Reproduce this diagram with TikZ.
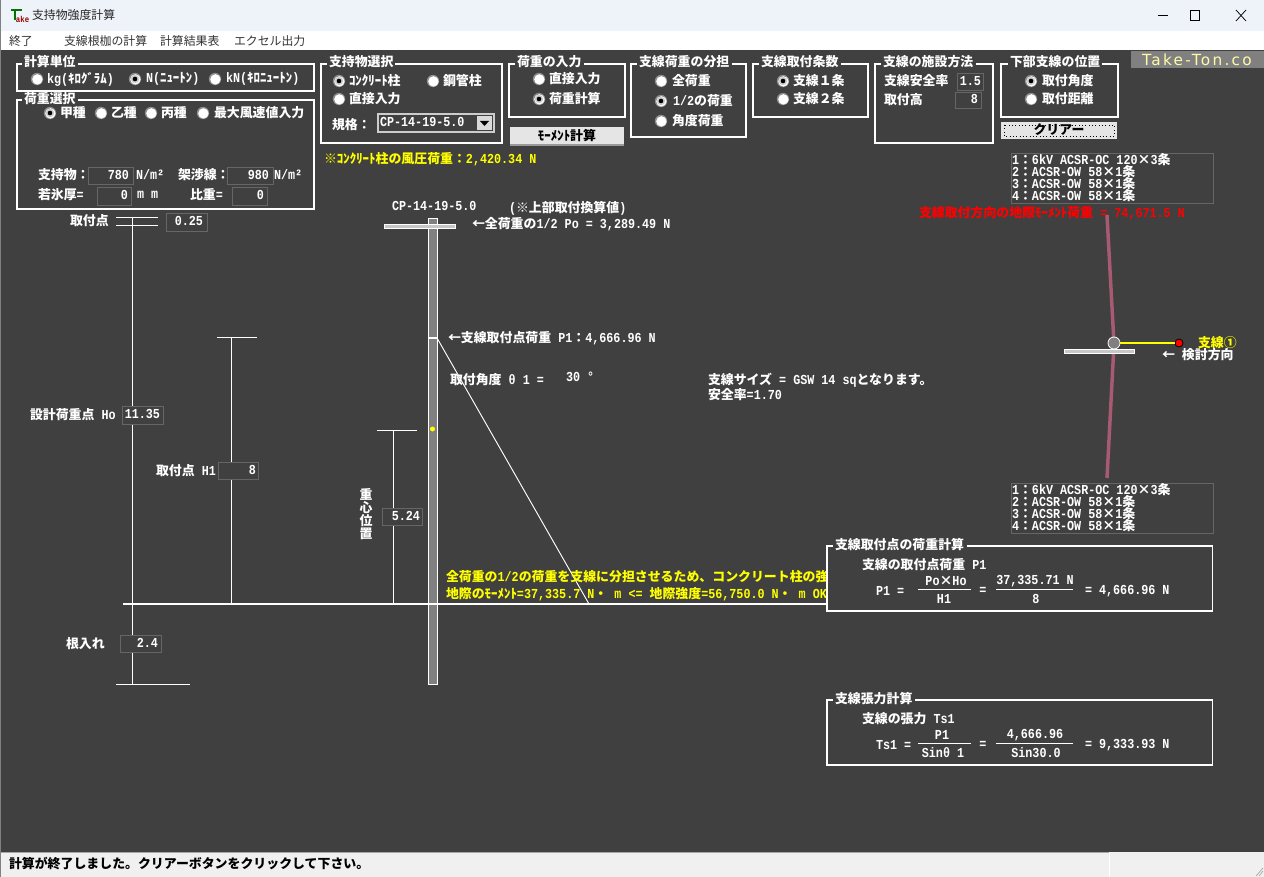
\documentclass[tikz,border=0pt]{standalone}
\usepackage{fontspec}
\setmainfont{Liberation Mono}[BoldFont={Liberation Mono Bold},Scale=1.17,FakeStretch=0.855]
\newfontfamily\latf{Liberation Mono}[BoldFont={Liberation Mono Bold},Scale=1.17,FakeStretch=0.855]
\newfontfamily\cjkf{Noto Sans CJK JP}[Scale=1.1]
\XeTeXinterchartokenstate=1
\newXeTeXintercharclass\cjkclass
\newcount\cc
\newcommand\setcjkrange[2]{\cc=#1\relax\loop\XeTeXcharclass\cc=\cjkclass\relax\ifnum\cc<#2\advance\cc by 1\repeat}
\setcjkrange{"3000}{"9FFF}
\setcjkrange{"FF00}{"FFEF}
\setcjkrange{"2190}{"2193}
\setcjkrange{"203B}{"203B}
\setcjkrange{"2460}{"2469}
\setcjkrange{"00D7}{"00D7}
\XeTeXinterchartoks 0 \cjkclass={\cjkf}
\XeTeXinterchartoks \cjkclass 0={\latf}
\XeTeXinterchartoks 4095 \cjkclass={\cjkf}
\XeTeXinterchartoks \cjkclass 4095={\latf}
\definecolor{bgd}{HTML}{404040}
\definecolor{ttl}{HTML}{EEF2F9}
\definecolor{edge}{HTML}{666666}
\definecolor{polec}{HTML}{808080}
\definecolor{linec}{HTML}{A85A72}
\definecolor{yel}{HTML}{FFFF00}
\tikzset{
 x=0.75pt,y=-0.75pt,
 every node/.style={inner sep=0pt,outer sep=0pt,font=\fontsize{8.8pt}{10.5pt}\selectfont\bfseries},
 menutext/.style={anchor=west,font=\fontsize{8.1pt}{10pt}\selectfont,text=black!80},
 tw/.style={anchor=west,text=white},
 ty/.style={anchor=west,text=yel},
 tr/.style={anchor=west,text=red},
 tk/.style={anchor=west,text=black},
 tval/.style={anchor=east,text=white},
 tc/.style={anchor=center,text=white},
 grp/.style={draw=white,line width=1.1pt},
 fld/.style={draw=edge,line width=0.65pt},
 wl/.style={draw=white,line width=0.75pt},
}
\newcommand\rad[3]{%
 \fill[black!45] (#1,#2) circle (6.2);
 \fill[white] (#1+0.4,#2+0.4) circle (5.2);
 \ifnum#3=1 \fill[black!20] (#1,#2) circle (4.2);\fill[black] (#1,#2) circle (2.3);\fi}
\begin{document}
\begin{tikzpicture}
\useasboundingbox (0,0) rectangle (1264,877);
\fill[bgd] (0,0) rectangle (1264,877);
% title and menu
\fill[ttl] (0,0) rectangle (1264,31);
\fill[white] (0,31) rectangle (1264,50);
\fill[white!94!black] (0,852) rectangle (1264,877);
\draw[black!35,line width=1pt] (0,852.5) -- (1109,852.5);
\draw[white,line width=0.6pt] (1109,852) -- (1109,877);
\draw[black!35,line width=0.5pt] (1256,876) -- (1263,868) (1259,876) -- (1263,871);
\draw[black!50,line width=0.8pt] (0.5,0) -- (0.5,877);
\node[menutext,text=black!85] (ttl) at (32,15) {支持物強度計算};
\draw[green!45!black,line width=1.2pt] (11,10) -- (22,10) (15,10) -- (15,20);
\node[anchor=west,text=red!60!black,font=\fontsize{5.5pt}{6pt}\selectfont\bfseries] (ico2) at (16,19) {ake};
\draw[black,line width=0.55pt] (1190,10.5) rectangle (1199,20.5) (1158,15.5) -- (1168,15.5);
\draw[black,line width=0.55pt] (1236,10) -- (1246,21) (1246,10) -- (1236,21);
\node[menutext] (m1) at (9,41) {終了};
\node[menutext] (m2) at (64,41) {支線根枷の計算};
\node[menutext] (m3) at (160,41) {計算結果表};
\node[menutext] (m4) at (234,41) {\addfontfeatures{FakeStretch=0.87}エクセル出力};
\node[tk] (st) at (9,864) {計算が終了しました。クリアーボタンをクリックして下さい。};
% logo
\fill[black!50] (1131,51) rectangle (1264,68);
\node[anchor=center,text=yellow!35!white,font=\fontsize{11.5pt}{12pt}\selectfont] (logo) at (1197,60) {\fontspec{DejaVu Sans}[LetterSpace=15]Take-Ton.co};
% group boxes
\draw[grp] (78,64) -| (314,91) -| (17,64) -- (22,64);
\node[tw] (g1) at (24,62) {計算単位};
\draw[grp] (78,100) -| (314,209) -| (17,100) -- (22,100);
\node[tw] (g2) at (24,99) {荷重選択};
\draw[grp] (395,64) -| (502,143) -| (321,64) -- (327,64);
\node[tw] (g3) at (329,62) {支持物選択};
\draw[grp] (584,64) -| (625,117) -| (509,64) -- (515,64);
\node[tw] (g4) at (517,62) {荷重の入力};
\draw[grp] (732,64) -| (746,137) -| (631,64) -- (637,64);
\node[tw] (g5) at (639,62) {支線荷重の分担};
\draw[grp] (841,64) -| (868,117) -| (753,64) -- (759,64);
\node[tw] (g6) at (761,62) {支線取付条数};
\draw[grp] (976,64) -| (993,143) -| (875,64) -- (881,64);
\node[tw] (g7) at (883,62) {支線の施設方法};
\draw[grp] (1102,64) -| (1118,117) -| (1001,64) -- (1008,64);
\node[tw] (g8) at (1010,62) {下部支線の位置};
% radios
\rad{37}{79}{0} \node[tw] (r1) at (47,79) {kg(ｷﾛｸﾞﾗﾑ)};
\rad{135}{79}{1} \node[tw] (r2) at (146,79) {N(ﾆｭｰﾄﾝ)};
\rad{215}{79}{0} \node[tw] (r3) at (226,79) {kN(ｷﾛﾆｭｰﾄﾝ)};
\rad{50}{113}{1} \node[tw] (r4) at (60,113) {甲種};
\rad{101}{113}{0} \node[tw] (r5) at (111,113) {乙種};
\rad{151}{113}{0} \node[tw] (r6) at (161,113) {丙種};
\rad{203}{113}{0} \node[tw] (r7) at (214,113) {最大風速値入力};
\rad{339}{81}{1} \node[tw] (r8) at (349,81) {ｺﾝｸﾘｰﾄ柱};
\rad{433}{81}{0} \node[tw] (r9) at (443,81) {鋼管柱};
\rad{339}{99}{0} \node[tw] (r10) at (349,99) {直接入力};
\node[tw] (kik) at (332,125) {規格：};
\fill[white!80!black] (377,113) rectangle (495,133);
\fill[bgd] (379,115) rectangle (493,131);
\fill[white!85!black] (477,116) rectangle (492,130);
\fill[black] (480,121) -- (489,121) -- (484.5,126) -- cycle;
\node[tw] (cp) at (380,122) {CP-14-19-5.0};
\rad{539}{79}{0} \node[tw] (r11) at (549,79) {直接入力};
\rad{539}{99}{1} \node[tw] (r12) at (549,99) {荷重計算};
\rad{661}{81}{0} \node[tw] (r13) at (672,81) {全荷重};
\rad{661}{101}{1} \node[tw] (r14) at (673,101) {1/2の荷重};
\rad{661}{121}{0} \node[tw] (r15) at (672,121) {角度荷重};
\rad{783}{81}{1} \node[tw] (r16) at (793,81) {支線１条};
\rad{783}{99}{0} \node[tw] (r17) at (793,99) {支線２条};
\node[tw] (sf) at (884,81) {支線安全率};
\draw[fld] (957,73) rectangle (983,90.5);
\node[tval] (sfv) at (981,81) {1.5};
\node[tw] (th) at (884,100) {取付高};
\draw[fld] (955,92) rectangle (981,108);
\node[tval] (thv) at (978,99) {8};
\rad{1031}{81}{1} \node[tw] (r18) at (1042,81) {取付角度};
\rad{1031}{99}{0} \node[tw] (r19) at (1042,99) {取付距離};
% buttons
\fill[white!90!black] (510,127) rectangle (624,146);
\fill[black!40] (510,144) rectangle (624,146);
\node[anchor=center,text=black] (bt1) at (567,136) {ﾓｰﾒﾝﾄ計算};
\fill[white!90!black] (1001,122) rectangle (1117,139);
\draw[black,dotted,line width=0.5pt] (1004,125) rectangle (1114,136);
\node[anchor=center,text=black] (bt2) at (1059,130) {クリアー};
% load panel
\node[tw] (a1) at (38,175) {支持物：};
\draw[fld] (88,167) rectangle (133,184);
\node[tval] (a1v) at (129,175) {780};
\node[tw] (a1u) at (136,175) {N/m²};
\node[tw] (a2) at (178,175) {架渉線：};
\draw[fld] (227,167) rectangle (273,184);
\node[tval] (a2v) at (269,175) {980};
\node[tw] (a2u) at (274,175) {N/m²};
\node[tw] (a3) at (38,195) {若氷厚=};
\draw[fld] (97,187) rectangle (131,205);
\node[tval] (a3v) at (128,195) {0};
\node[tw] (a3u) at (137,195) {m m};
\node[tw] (a4) at (190,195) {比重=};
\draw[fld] (232,187) rectangle (267,205);
\node[tval] (a4v) at (264,195) {0};
\node[ty] (wind) at (324,159) {※ｺﾝｸﾘｰﾄ柱の風圧荷重：2,420.34 N};
% wire lists
\draw[fld] (1011,153) rectangle (1213,203);
\node[tw] (w1) at (1012,160) {1：6kV ACSR-OC 120×3条};
\node[tw] (w2) at (1012,172) {2：ACSR-OW 58×1条};
\node[tw] (w3) at (1012,184) {3：ACSR-OW 58×1条};
\node[tw] (w4) at (1012,196) {4：ACSR-OW 58×1条};
\node[tr] (mom) at (919,213) {支線取付方向の地際ﾓｰﾒﾝﾄ荷重 = 74,671.5 N};
\draw[fld] (1011,483) rectangle (1213,533);
\node[tw] (w5) at (1012,490) {1：6kV ACSR-OC 120×3条};
\node[tw] (w6) at (1012,502) {2：ACSR-OW 58×1条};
\node[tw] (w7) at (1012,514) {3：ACSR-OW 58×1条};
\node[tw] (w8) at (1012,526) {4：ACSR-OW 58×1条};
% plan view
\draw[linec,line width=2.6pt] (1107,215) -- (1114,344) -- (1107,478);
\fill[white!78!black,draw=white,line width=0.6pt] (1064.5,349.5) rectangle (1134.5,353.5);
\node[circle,fill=polec,draw=white,line width=0.6pt,minimum size=9pt] (pv) at (1114,343) {};
\node[circle,fill=red,draw=black,line width=0.6pt,minimum size=6pt] (pr) at (1179,343) {};
\draw[yel,line width=1.6pt] (pv) -- (pr);
\node[ty] (s1) at (1198,343) {支線①};
\node[tw] (dir) at (1162,355) {← 検討方向};
% left dimensions
\draw[wl] (116,218) -- (158,218) (116,226) -- (158,226) (132,218) -- (132,684) (116,684) -- (190,684);
\node[tw] (d1) at (70,221) {取付点};
\draw[fld,fill=bgd] (166,213) rectangle (207,231);
\node[tval] (d1v) at (203,221) {0.25};
\draw[fld,fill=bgd] (122,406) rectangle (163,424);
\node[tw] (d2) at (30,415) {設計荷重点 Ho};
\node[tval] (d2v) at (160,414) {11.35};
\draw[wl] (217,338) -- (257,338) (231,338) -- (231,604);
\draw[fld,fill=bgd] (218,462) rectangle (258,479);
\node[tw] (d3) at (156,471) {取付点 H1};
\node[tval] (d3v) at (256,470) {8};
\draw[wl] (377,430) -- (417,430) (393,430) -- (393,604);
\draw[fld,fill=bgd] (382,508) rectangle (422.5,525);
\node[tval] (d4v) at (420,516) {5.24};
\node[tw,anchor=center,align=center,font=\fontsize{8.8pt}{8.6pt}\selectfont\bfseries] (d4) at (366,514) {重\\心\\位\\置};
\draw[fld,fill=bgd] (120,635) rectangle (161,652);
\node[tw] (d5) at (66,644) {根入れ};
\node[tval] (d5v) at (158,643) {2.4};
% pole
\fill[polec,draw=white,line width=0.6pt] (428,218) rectangle (437,684);
\fill[white!78!black,draw=white,line width=0.7pt] (384,224.5) rectangle (455,228.5);
\draw[white,line width=1.1pt] (428,338) -- (437,338);
\fill[yel] (432.5,429) circle (2.5);
\coordinate (gp) at (589,604);
\coordinate (tp) at (437,338);
\draw[white,line width=0.7pt] (tp) -- (gp);
\draw[white,line width=1.5pt] (123,603.5) -- (827,603.5);
\node[tw] (cpt) at (392,206) {CP-14-19-5.0};
\node[tw] (nt) at (509,208) {(※上部取付換算値)};
\node[tw] (po) at (472,224) {←全荷重の1/2 Po =  3,289.49 N};
\node[tw] (p1) at (448,338) {←支線取付点荷重 P1：4,666.96 N};
\node[tw] (ang) at (450,379.5) {取付角度  θ 1 =};
\node[tw] (angv) at (566,377) {30 °};
\node[tw] (gs) at (708,380) {支線サイズ = GSW 14 sqとなります。};
\node[tw] (sr) at (708,395) {安全率=1.70};
\begin{scope}
\clip (440,560) rectangle (827,610);
\node[ty] (y1) at (446,577) {全荷重の1/2の荷重を支線に分担させるため、コンクリート柱の強度判定};
\end{scope}
\node[ty] (y2) at (446,594) {地際のﾓｰﾒﾝﾄ=37,335.7 N・ m <= 地際強度=56,750.0 N・ m OK};
% calc 1
\draw[grp,fill=bgd] (967,546) -- (1212.5,546) -- (1212.5,611) -- (827,611) -- (827,546) -- (833,546);
\node[tw] (c1) at (835,545) {支線取付点の荷重計算};
\node[tw] (c1a) at (862,565) {支線の取付点荷重 P1};
\node[tw] (c1b) at (876,591) {P1  =};
\node[tc] (c1n) at (946,581) {Po×Ho};
\draw[wl] (918,589) -- (971,589);
\node[tc] (c1d) at (944,599) {H1};
\node[tc] (c1e) at (983,591) {=};
\node[tc] (c1m) at (1035,581) {37,335.71 N};
\draw[wl] (996,589) -- (1073,589);
\node[tc] (c1o) at (1036,599) {8};
\node[tw] (c1r) at (1085,591) {= 4,666.96 N};
% calc 2
\draw[grp] (915,700) -- (1212.5,700) -- (1212.5,765) -- (827,765) -- (827,700) -- (833,700);
\node[tw] (c2) at (835,699) {支線張力計算};
\node[tw] (c2a) at (862,719) {支線の張力 Ts1};
\node[tw] (c2b) at (876,745) {Ts1 =};
\node[tc] (c2n) at (942,735) {P1};
\draw[wl] (918,743) -- (971,743);
\node[tc] (c2d) at (943,753) {Sinθ 1};
\node[tc] (c2e) at (983,745) {=};
\node[tc] (c2m) at (1035,735) {4,666.96};
\draw[wl] (996,743) -- (1073,743);
\node[tc] (c2o) at (1036,753) {Sin30.0};
\node[tw] (c2r) at (1085,745) {= 9,333.93 N};
\end{tikzpicture}
\end{document}
